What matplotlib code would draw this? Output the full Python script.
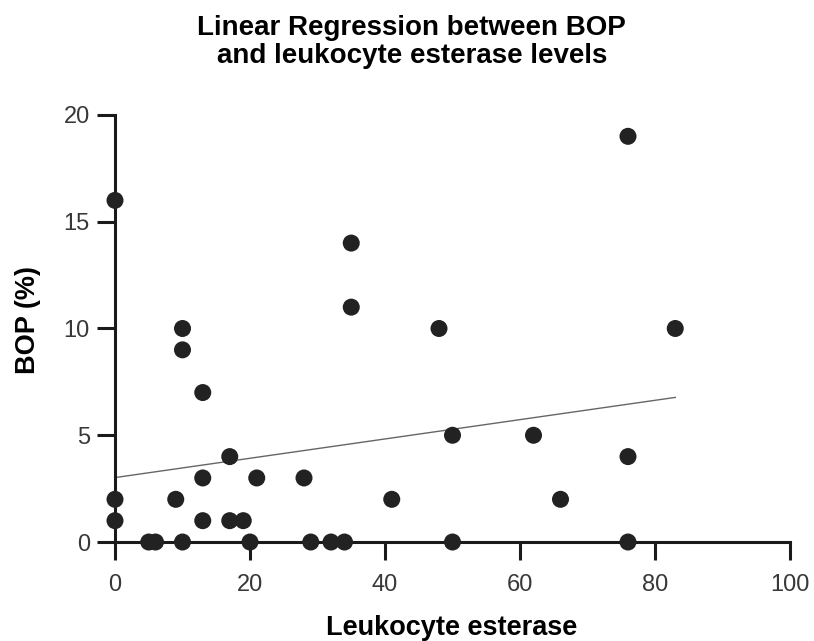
import numpy as np
import matplotlib
matplotlib.use("Agg")
import matplotlib.pyplot as plt

plt.rcParams['font.family'] = ['Liberation Sans', 'DejaVu Sans']

# values
leukocyte = [0, 0, 0, 5, 6, 10, 20, 29, 32, 34, 50, 76,
             9, 10, 10, 13, 13, 13, 17, 17, 19, 21, 28, 35, 35, 41,
             48, 50, 62, 66, 76, 76, 83]
bop = [16, 2, 1, 0, 0, 0, 0, 0, 0, 0, 0, 0,
       2, 10, 9, 7, 3, 1, 4, 1, 1, 3, 3, 14, 11, 2,
       10, 5, 5, 2, 19, 4, 10]
xticks = [0, 20, 40, 60, 80, 100]
yticks = [0, 5, 10, 15, 20]

x = np.array(leukocyte, dtype=float)
y = np.array(bop, dtype=float)
slope, intercept = np.polyfit(x, y, 1)

fig = plt.figure(figsize=(8.14, 6.41), dpi=100)
ax = fig.add_axes([0.1164, 0.1211, 0.8707, 0.7162])

# regression line over the data range
xs = np.array([x.min(), x.max()])
ax.plot(xs, intercept + slope * xs, color='#666666', lw=1.0, zorder=2)
ax.scatter(x, y, s=150, color='#222222', edgecolors='none', zorder=3, clip_on=False)

ax.set_xlim(-3, 102)
ax.set_ylim(-1, 20.5)

for side in ['top', 'right']:
    ax.spines[side].set_visible(False)
ax.spines['left'].set_position(('data', 0))
ax.spines['bottom'].set_position(('data', 0))
ax.spines['left'].set_bounds(0, 20)
ax.spines['bottom'].set_bounds(0, 100)
for side in ['left', 'bottom']:
    ax.spines[side].set_linewidth(2.2)
    ax.spines[side].set_color('#1a1a1a')

ax.set_xticks(xticks)
ax.set_yticks(yticks)
ax.tick_params(direction='out', length=13, width=2.2, color='#1a1a1a',
               labelsize=17, labelcolor='#383838')
ax.tick_params(axis='x', pad=10)
ax.tick_params(axis='y', pad=5)

ax.set_xlabel('Leukocyte esterase', fontsize=19.5, fontweight='bold')
ax.xaxis.set_label_coords(0.503, -0.112)
ax.set_ylabel('BOP (%)', fontsize=19.5, fontweight='bold', va='center')
ax.yaxis.set_label_coords(-0.094, 0.53)

fig.text(0.506, 1 - 63 / 641, 'Linear Regression between BOP\nand leukocyte esterase levels',
         ha='center', va='baseline', fontsize=20, fontweight='bold',
         linespacing=1.1, multialignment='center')

fig.savefig('out.png', dpi=100)
